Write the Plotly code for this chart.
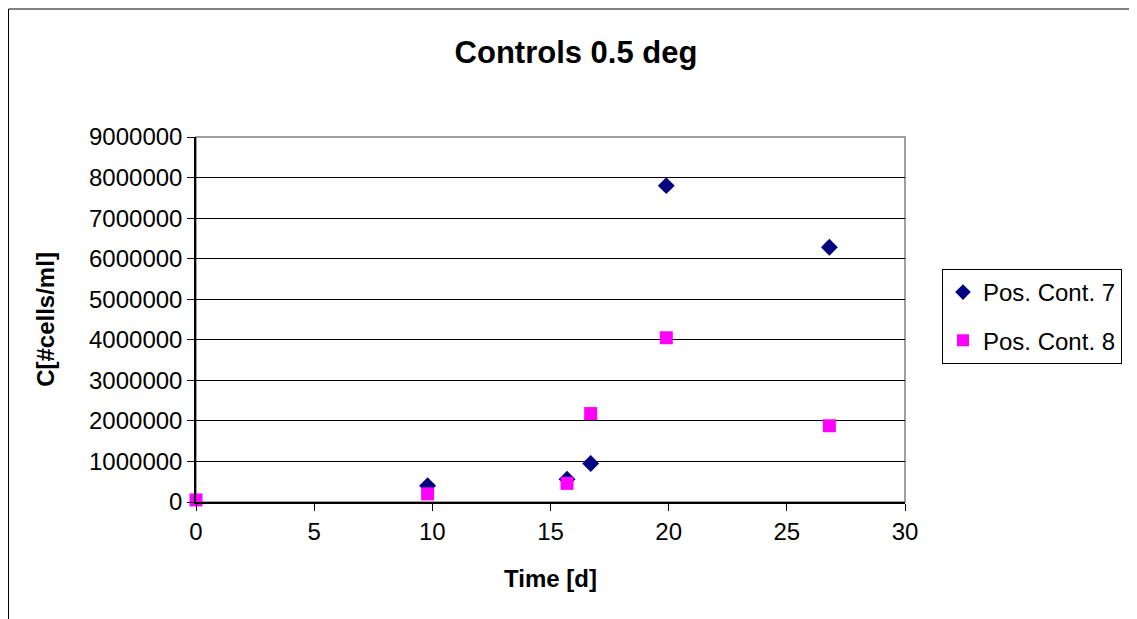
import plotly.graph_objects as go

# data
time_7 = [9.8, 15.7, 16.7, 19.9, 26.8]
conc_7 = [400000, 560000, 950000, 7800000, 6280000]
time_8 = [0, 9.8, 15.7, 16.7, 19.9, 26.8]
conc_8 = [50000, 200000, 460000, 2180000, 4050000, 1880000]

x_ticks = [0, 5, 10, 15, 20, 25, 30]
y_ticks = [0, 1000000, 2000000, 3000000, 4000000, 5000000, 6000000, 7000000, 8000000, 9000000]

font = "Liberation Sans, Arial, sans-serif"

# the page puts the figure 8px in from the top left corner
W, H = 1129, 611
L, T, R, B = 188, 129, 232, 117
pw, ph = W - L - R, H - T - B

fig = go.Figure()
fig.add_trace(go.Scatter(
    x=time_7, y=conc_7, mode="markers", name="Pos. Cont. 7", legendgroup="a",
    marker=dict(symbol="diamond", size=13, color="#000080"), cliponaxis=False,
))
fig.add_trace(go.Scatter(
    x=time_8, y=conc_8, mode="markers", name="Pos. Cont. 8", legendgroup="b",
    marker=dict(symbol="square", size=13, color="#FF00FF"), cliponaxis=False,
))

fig.update_layout(
    width=W, height=H,
    margin=dict(l=L, r=R, t=T, b=B),
    paper_bgcolor="white", plot_bgcolor="white",
    font=dict(family=font, size=24, color="black"),
    title=dict(text="<b>Controls 0.5 deg</b>", x=568 / W, xanchor="center",
               y=1 - 44 / H, yanchor="middle", font=dict(size=31)),
    showlegend=True,
    legend=dict(x=(934 - L) / pw, y=(T + ph - 261) / ph, xanchor="left", yanchor="top",
                bordercolor="black", borderwidth=1, bgcolor="white",
                font=dict(size=24), itemsizing="constant",
                tracegroupgap=14),
    shapes=[
        dict(type="rect", xref="paper", yref="paper", x0=0, x1=1, y0=0, y1=1,
             line=dict(color="#808080", width=1.5), layer="below"),
        dict(type="rect", xref="paper", yref="paper",
             x0=(0.5 - L) / pw, x1=1.5, y0=-0.5, y1=(T + ph - 1) / ph,
             line=dict(color="black", width=1)),
    ],
)
fig.update_xaxes(
    range=[0, 30], tickvals=x_ticks, showgrid=False, zeroline=False,
    showline=True, linecolor="black", linewidth=1.5,
    ticks="outside", ticklen=7, tickcolor="black",
    title=dict(text="<b>Time [d]</b>", font=dict(size=24), standoff=27),
)
fig.update_yaxes(
    range=[0, 9000000], tickvals=y_ticks, tickformat="d",
    showgrid=True, gridcolor="black", gridwidth=1, zeroline=False,
    showline=True, linecolor="black", linewidth=1.5,
    ticks="outside", ticklen=7, tickcolor="black",
    title=dict(text="<b>C[#cells/ml]</b>", font=dict(size=24), standoff=28),
)

fig.write_html("out.html")
